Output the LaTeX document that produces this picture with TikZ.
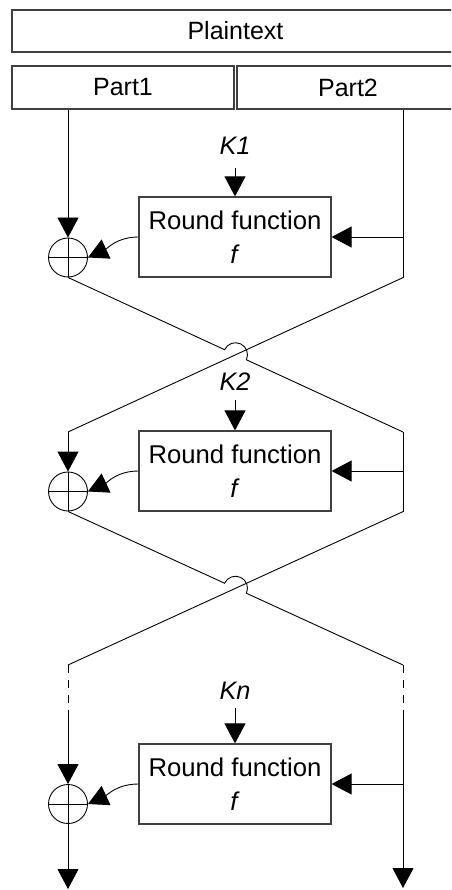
\documentclass[tikz,border=0pt]{standalone}
\usepackage{fontspec}
\setmainfont{Liberation Sans}
\usetikzlibrary{arrows.meta,calc}
\begin{document}
\begin{tikzpicture}[x=1pt,y=1pt,
  box/.style={draw=black!75, line width=1.2pt, inner sep=0pt, font=\fontsize{25}{30}\selectfont},
  partbox/.style={box, minimum width=222pt, minimum height=43pt},
  fbox/.style={draw=black!75, line width=1.2pt, inner sep=0pt, minimum width=192pt, minimum height=80pt, align=center, font=\fontsize{25.7}{34}\selectfont},
  xor/.style={circle, draw, line width=0.9pt, minimum size=39pt, inner sep=0pt,
    path picture={\draw[line width=0.9pt] (path picture bounding box.north) -- (path picture bounding box.south) (path picture bounding box.west) -- (path picture bounding box.east);}},
  ln/.style={line width=0.9pt},
  arr/.style={ln, -{Triangle[length=20pt,width=21pt]}},
  key/.style={font=\fontsize{25.3}{30}\selectfont\itshape, inner sep=0pt, anchor=base},
  dsh/.style={ln, dash pattern=on 8pt off 7pt}
]
\useasboundingbox (0,0) rectangle (451,-890);
\clip (0,0) rectangle (451,-890);
\coordinate (lx) at (68,0);
\coordinate (rx) at (403,0);

% top boxes
\node[box, minimum width=447pt, minimum height=42pt] (pt) at (235.5,-31) {Plaintext};
\node[partbox] (p1) at (123,-87.5) {Part1};
\node[partbox] (p2) at (348,-87.5) {Part2};

% round function boxes
\node[fbox] (f1) at (235,-237) {Round function\\\textit{f}};
\node[fbox] (f2) at (235,-471) {Round function\\\textit{f}};
\node[fbox] (f3) at (235,-784) {Round function\\\textit{f}};

% keys
\node[key] (k1) at (235,-155) {K1};
\node[key] (k2) at (235,-390) {K2};
\node[key] (k3) at (235,-699) {Kn};

% xor circles
\node[xor] (c1) at (68,-257.5) {};
\node[xor] (c2) at (68,-491.5) {};
\node[xor] (c3) at (68,-804) {};

% round 1
\coordinate (a1) at (lx |- p1.south);
\coordinate (b1) at (rx |- p2.south);
\coordinate (b1e) at (rx |- f1.south);
\draw[arr] (a1) -- (c1.north);
\draw[ln] (b1) -- (b1e);
\draw[arr] (rx |- f1.east) -- (f1.east);
\draw[arr] ([yshift=-13pt]k1.south) -- (f1.north);
\draw[arr] (f1.west) to[out=180,in=25] (c1.east);

% crossing 1
\coordinate (a2) at (68,-432);
\coordinate (b2) at (403,-432);
\coordinate (x1) at ($(c1.south)!0.5!(b2)$);
\draw[ln] (c1.south) -- ($(x1)!12pt!(c1.south)$) arc[start angle=155.2,end angle=-24.8,radius=12pt] -- (b2);
\draw[ln] (b1e) -- (a2);

% round 2
\coordinate (b2e) at (rx |- f2.south);
\draw[arr] (a2) -- (c2.north);
\draw[ln] (b2) -- (b2e);
\draw[arr] (rx |- f2.east) -- (f2.east);
\draw[arr] ([yshift=-10pt]k2.south) -- (f2.north);
\draw[arr] (f2.west) to[out=180,in=25] (c2.east);

% crossing 2
\coordinate (a3) at (68,-665);
\coordinate (b3) at (403,-665);
\coordinate (x2) at ($(c2.south)!0.5!(b3)$);
\draw[ln] (c2.south) -- ($(x2)!12pt!(c2.south)$) arc[start angle=155.3,end angle=-24.7,radius=12pt] -- (b3);
\draw[ln] (b2e) -- (a3);

% round n
\coordinate (a3d) at (68,-710);
\coordinate (b3d) at (403,-710);
\coordinate (outl) at (68,-889);
\coordinate (outr) at (403,-888);
\draw[dsh] (a3) -- (a3d);
\draw[dsh] (b3) -- (b3d);
\draw[arr] (a3d) -- (c3.north);
\draw[arr] (b3d) -- (outr);
\draw[arr] (c3.south) -- (outl);
\draw[arr] (rx |- f3.east) -- (f3.east);
\draw[arr] ([yshift=-9pt]k3.south) -- (f3.north);
\draw[arr] (f3.west) to[out=180,in=25] (c3.east);
\end{tikzpicture}
\end{document}
